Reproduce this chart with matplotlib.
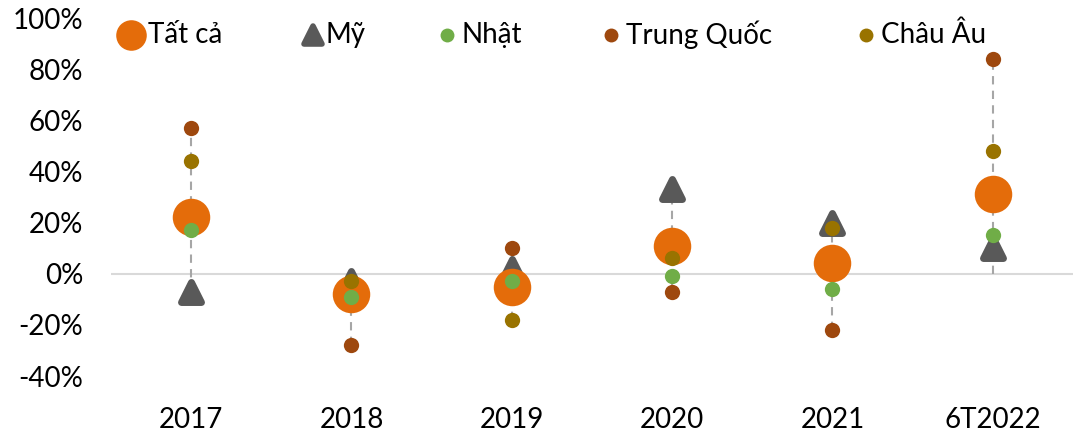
import numpy as np
import matplotlib
matplotlib.use('Agg')
import matplotlib.pyplot as plt
from matplotlib.markers import MarkerStyle
from matplotlib.lines import Line2D

plt.rcParams['font.family'] = ['Lato', 'DejaVu Sans']

# --- Dữ liệu (tăng trưởng, %) ---
nam = ['2017', '2018', '2019', '2020', '2021', '6T2022']
tat_ca = [22, -8, -5, 11, 4, 31]
my = [-7, -3, 2, 33, 20, 10]
nhat = [17, -9, -3, -1, -6, 15]
trung_quoc = [57, -28, 10, -7, -22, 84]
chau_au = [44, -3, -18, 6, 18, 48]

C_TATCA = '#E46C0A'
C_MY = '#595959'
C_NHAT = '#70AD47'
C_TQ = '#9E480E'
C_CHAUAU = '#997300'

W, H = 1073, 432
fig = plt.figure(figsize=(W / 100, H / 100), dpi=100)
ax = fig.add_axes([0.1034, 0.1296, 0.8966, 0.8287])

x = np.arange(len(nam))

# đường nối cao-thấp (nét đứt)
cac_chuoi = [tat_ca, my, nhat, trung_quoc, chau_au]
for i in x:
    vals = [s[i] for s in cac_chuoi] + [0]
    ax.plot([i, i], [min(vals), max(vals)], color='#a6a6a6', lw=1.5,
            ls=(0, (4, 3)), zorder=1)

ax.axhline(0, color='#d9d9d9', lw=1.5, zorder=0)

tri = MarkerStyle('^', joinstyle='round')
ax.plot(x, my, ls='none', marker=tri, ms=14, color=C_MY, mec=C_MY, mew=5, zorder=2)
ax.plot(x, tat_ca, ls='none', marker='o', ms=27, color=C_TATCA, mew=0, zorder=3)
ax.plot(x, nhat, ls='none', marker='o', ms=11, color=C_NHAT, mew=0, zorder=4)
ax.plot(x, trung_quoc, ls='none', marker='o', ms=11, color=C_TQ, mew=0, zorder=5)
ax.plot(x, chau_au, ls='none', marker='o', ms=11, color=C_CHAUAU, mew=0, zorder=6)

ax.set_xlim(-0.5, len(nam) - 0.5)
ax.set_ylim(-40, 100)
ax.set_yticks(np.arange(-40, 101, 20))
ax.set_yticklabels([f'{v}%' for v in range(-40, 101, 20)])
ax.set_xticks(x)
ax.set_xticklabels(nam)
ax.tick_params(axis='both', length=0, labelsize=20)
ax.tick_params(axis='y', pad=20)
ax.tick_params(axis='x', pad=22)
for s in ax.spines.values():
    s.set_visible(False)

# chú giải vẽ tay (vị trí theo pixel)
chu_giai = [
    ('Tất cả', dict(marker='o', ms=22, color=C_TATCA, mew=0), 131, 148),
    ('Mỹ', dict(marker=tri, ms=13, color=C_MY, mec=C_MY, mew=4), 313, 325),
    ('Nhật', dict(marker='o', ms=10, color=C_NHAT, mew=0), 447, 462),
    ('Trung Quốc', dict(marker='o', ms=10, color=C_TQ, mew=0), 611, 626),
    ('Châu Âu', dict(marker='o', ms=10, color=C_CHAUAU, mew=0), 866, 881),
]
y_cg = 1 - 35 / H
for ten, kieu, xm, xt in chu_giai:
    fig.add_artist(Line2D([xm / W], [y_cg], ls='none', transform=fig.transFigure,
                          zorder=10, **kieu))
    fig.text(xt / W, y_cg, ten, ha='left', va='center', fontsize=20)

fig.savefig('out.png', dpi=100)
